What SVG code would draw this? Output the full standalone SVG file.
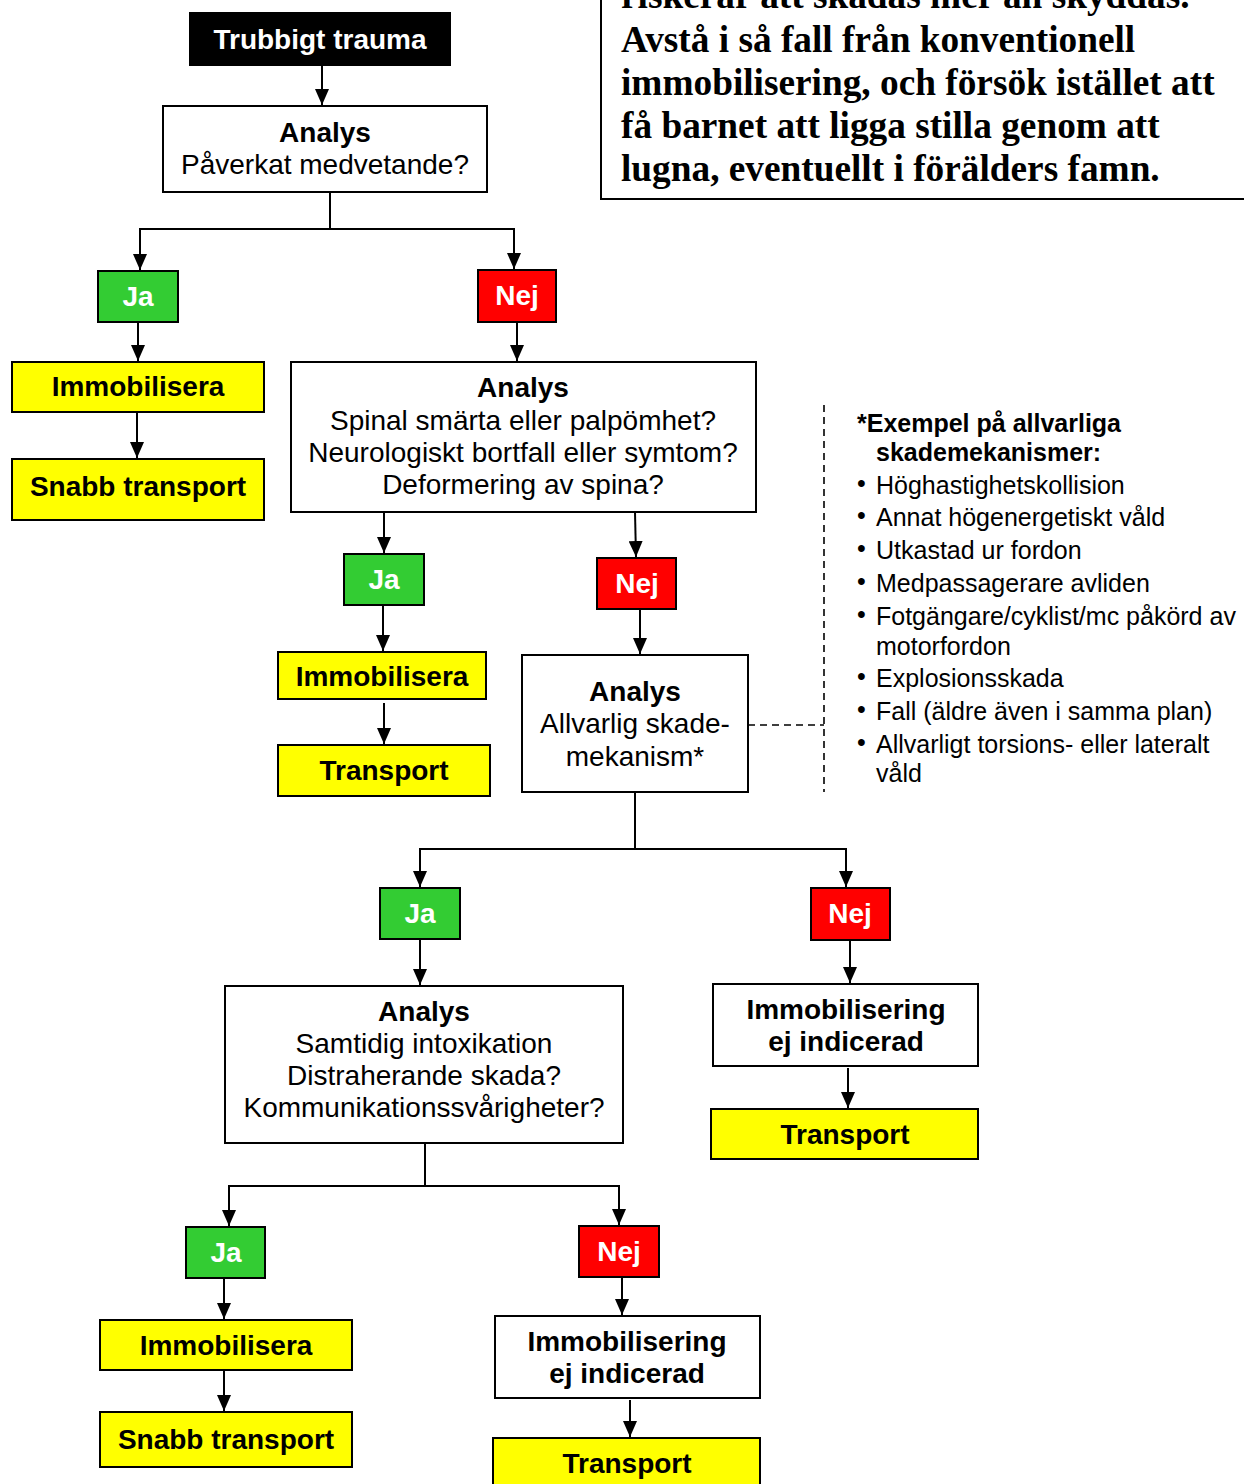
<svg xmlns="http://www.w3.org/2000/svg" width="1244" height="1484" viewBox="0 0 1244 1484">
<defs>
<style>
.box{stroke:#000;stroke-width:2}
.w{fill:#fff}
.y{fill:#ffff00}
.g{fill:#33cc33}
.r{fill:#ff0000}
.k{fill:#000}
text{font-family:"Liberation Sans",Arial,sans-serif;font-size:28px;text-anchor:middle;fill:#000}
.b{font-weight:bold}
.wt{fill:#fff;font-weight:bold}
.leg{font-size:25px;text-anchor:start}
.note{font-family:"Liberation Serif","Times New Roman",serif;font-weight:bold;font-size:37.3px;text-anchor:start}
.c{stroke:#000;stroke-width:2;fill:none}
.d{stroke:#000;stroke-width:1.6;fill:none;stroke-dasharray:7 5}
</style>
<marker id="ah" markerUnits="userSpaceOnUse" markerWidth="16" markerHeight="14" refX="16" refY="7" orient="auto">
<path d="M0,0 L16,7 L0,14 z" fill="#000"/>
</marker>
</defs>
<rect width="1244" height="1484" fill="#fff"/>

<g id="note">
<path class="c" d="M601,0 V199 H1244"/>
<text class="note" x="621" y="8">riskerar att skadas mer än skyddas.</text>
<text class="note" x="621" y="52">Avstå i så fall från konventionell</text>
<text class="note" x="621" y="95">immobilisering, och försök istället att</text>
<text class="note" x="621" y="138">få barnet att ligga stilla genom att</text>
<text class="note" x="621" y="181">lugna, eventuellt i förälders famn.</text>
</g>

<g id="connectors">
<path class="c" marker-end="url(#ah)" d="M322,66 V105"/>
<path class="c" d="M330,192 V229 M139,229 H515"/>
<path class="c" marker-end="url(#ah)" d="M140,229 V270"/>
<path class="c" marker-end="url(#ah)" d="M514,229 V269"/>
<path class="c" marker-end="url(#ah)" d="M138,322 V361"/>
<path class="c" marker-end="url(#ah)" d="M137,412 V458"/>
<path class="c" marker-end="url(#ah)" d="M517,322 V361"/>
<path class="c" marker-end="url(#ah)" d="M384,512 V553"/>
<path class="c" marker-end="url(#ah)" d="M635,512 L636,557"/>
<path class="c" marker-end="url(#ah)" d="M383,605 V651"/>
<path class="c" marker-end="url(#ah)" d="M384,703 V744"/>
<path class="c" marker-end="url(#ah)" d="M640,609 V654"/>
<path class="c" d="M635,792 V849 M419,849 H847"/>
<path class="c" marker-end="url(#ah)" d="M420,849 V887"/>
<path class="c" marker-end="url(#ah)" d="M846,849 V887"/>
<path class="c" marker-end="url(#ah)" d="M420,940 V985"/>
<path class="c" marker-end="url(#ah)" d="M850,940 V983"/>
<path class="c" marker-end="url(#ah)" d="M848,1068 V1108"/>
<path class="c" d="M425,1143 V1186 M228,1186 H620"/>
<path class="c" marker-end="url(#ah)" d="M229,1186 V1226"/>
<path class="c" marker-end="url(#ah)" d="M619,1186 V1225"/>
<path class="c" marker-end="url(#ah)" d="M224,1278 V1319"/>
<path class="c" marker-end="url(#ah)" d="M224,1370 V1411"/>
<path class="c" marker-end="url(#ah)" d="M622,1278 V1315"/>
<path class="c" marker-end="url(#ah)" d="M630,1400 V1437"/>
<path class="d" d="M748,725 H824 M824,405 V792"/>
</g>

<g id="n-trauma"><rect class="box k" x="190" y="13" width="260" height="52"/><text class="wt" x="320" y="49">Trubbigt trauma</text></g>
<g id="n-analys1"><rect class="box w" x="163" y="106" width="324" height="86"/><text class="b" x="325" y="142">Analys</text><text x="325" y="174">Påverkat medvetande?</text></g>
<g id="n-ja1"><rect class="box g" x="98" y="271" width="80" height="51"/><text class="wt" x="138" y="306">Ja</text></g>
<g id="n-nej1"><rect class="box r" x="478" y="270" width="78" height="52"/><text class="wt" x="517" y="305">Nej</text></g>
<g id="n-immob1"><rect class="box y" x="12" y="362" width="252" height="50"/><text class="b" x="138" y="396">Immobilisera</text></g>
<g id="n-snabb1"><rect class="box y" x="12" y="459" width="252" height="61"/><text class="b" x="138" y="496">Snabb transport</text></g>
<g id="n-analys2"><rect class="box w" x="291" y="362" width="465" height="150"/><text class="b" x="523" y="397">Analys</text><text x="523" y="430">Spinal smärta eller palpömhet?</text><text x="523" y="462">Neurologiskt bortfall eller symtom?</text><text x="523" y="494">Deformering av spina?</text></g>
<g id="n-ja2"><rect class="box g" x="344" y="554" width="80" height="51"/><text class="wt" x="384" y="589">Ja</text></g>
<g id="n-nej2"><rect class="box r" x="597" y="558" width="79" height="51"/><text class="wt" x="637" y="593">Nej</text></g>
<g id="n-immob2"><rect class="box y" x="278" y="652" width="208" height="47"/><text class="b" x="382" y="686">Immobilisera</text></g>
<g id="n-transport2"><rect class="box y" x="278" y="745" width="212" height="51"/><text class="b" x="384" y="780">Transport</text></g>
<g id="n-analys3"><rect class="box w" x="522" y="655" width="226" height="137"/><text class="b" x="635" y="701">Analys</text><text x="635" y="733">Allvarlig skade-</text><text x="635" y="766">mekanism*</text></g>
<g id="legend">
<text class="leg b" x="857" y="432">*Exempel på allvarliga</text>
<text class="leg b" x="876" y="461">skademekanismer:</text>
<text class="leg" x="857" y="492" font-size="16">•</text><text class="leg" x="876" y="494">Höghastighetskollision</text>
<text class="leg" x="857" y="524" font-size="16">•</text><text class="leg" x="876" y="526">Annat högenergetiskt våld</text>
<text class="leg" x="857" y="557" font-size="16">•</text><text class="leg" x="876" y="559">Utkastad ur fordon</text>
<text class="leg" x="857" y="590" font-size="16">•</text><text class="leg" x="876" y="592">Medpassagerare avliden</text>
<text class="leg" x="857" y="623" font-size="16">•</text><text class="leg" x="876" y="625">Fotgängare/cyklist/mc påkörd av</text>
<text class="leg" x="876" y="655">motorfordon</text>
<text class="leg" x="857" y="685" font-size="16">•</text><text class="leg" x="876" y="687">Explosionsskada</text>
<text class="leg" x="857" y="718" font-size="16">•</text><text class="leg" x="876" y="720">Fall (äldre även i samma plan)</text>
<text class="leg" x="857" y="751" font-size="16">•</text><text class="leg" x="876" y="753">Allvarligt torsions- eller lateralt</text>
<text class="leg" x="876" y="782">våld</text>
</g>
<g id="n-ja3"><rect class="box g" x="380" y="888" width="80" height="51"/><text class="wt" x="420" y="923">Ja</text></g>
<g id="n-nej3"><rect class="box r" x="811" y="888" width="79" height="52"/><text class="wt" x="850" y="923">Nej</text></g>
<g id="n-analys4"><rect class="box w" x="225" y="986" width="398" height="157"/><text class="b" x="424" y="1021">Analys</text><text x="424" y="1053">Samtidig intoxikation</text><text x="424" y="1085">Distraherande skada?</text><text x="424" y="1117">Kommunikationssvårigheter?</text></g>
<g id="n-ejind1"><rect class="box w" x="713" y="984" width="265" height="82"/><text class="b" x="846" y="1019">Immobilisering</text><text class="b" x="846" y="1051">ej indicerad</text></g>
<g id="n-transport3"><rect class="box y" x="711" y="1109" width="267" height="50"/><text class="b" x="845" y="1144">Transport</text></g>
<g id="n-ja4"><rect class="box g" x="186" y="1227" width="79" height="51"/><text class="wt" x="226" y="1262">Ja</text></g>
<g id="n-nej4"><rect class="box r" x="579" y="1226" width="80" height="51"/><text class="wt" x="619" y="1261">Nej</text></g>
<g id="n-immob4"><rect class="box y" x="100" y="1320" width="252" height="50"/><text class="b" x="226" y="1355">Immobilisera</text></g>
<g id="n-snabb4"><rect class="box y" x="100" y="1412" width="252" height="55"/><text class="b" x="226" y="1449">Snabb transport</text></g>
<g id="n-ejind2"><rect class="box w" x="495" y="1316" width="265" height="82"/><text class="b" x="627" y="1351">Immobilisering</text><text class="b" x="627" y="1383">ej indicerad</text></g>
<g id="n-transport4"><rect class="box y" x="493" y="1438" width="267" height="60"/><text class="b" x="627" y="1473">Transport</text></g>
</svg>
